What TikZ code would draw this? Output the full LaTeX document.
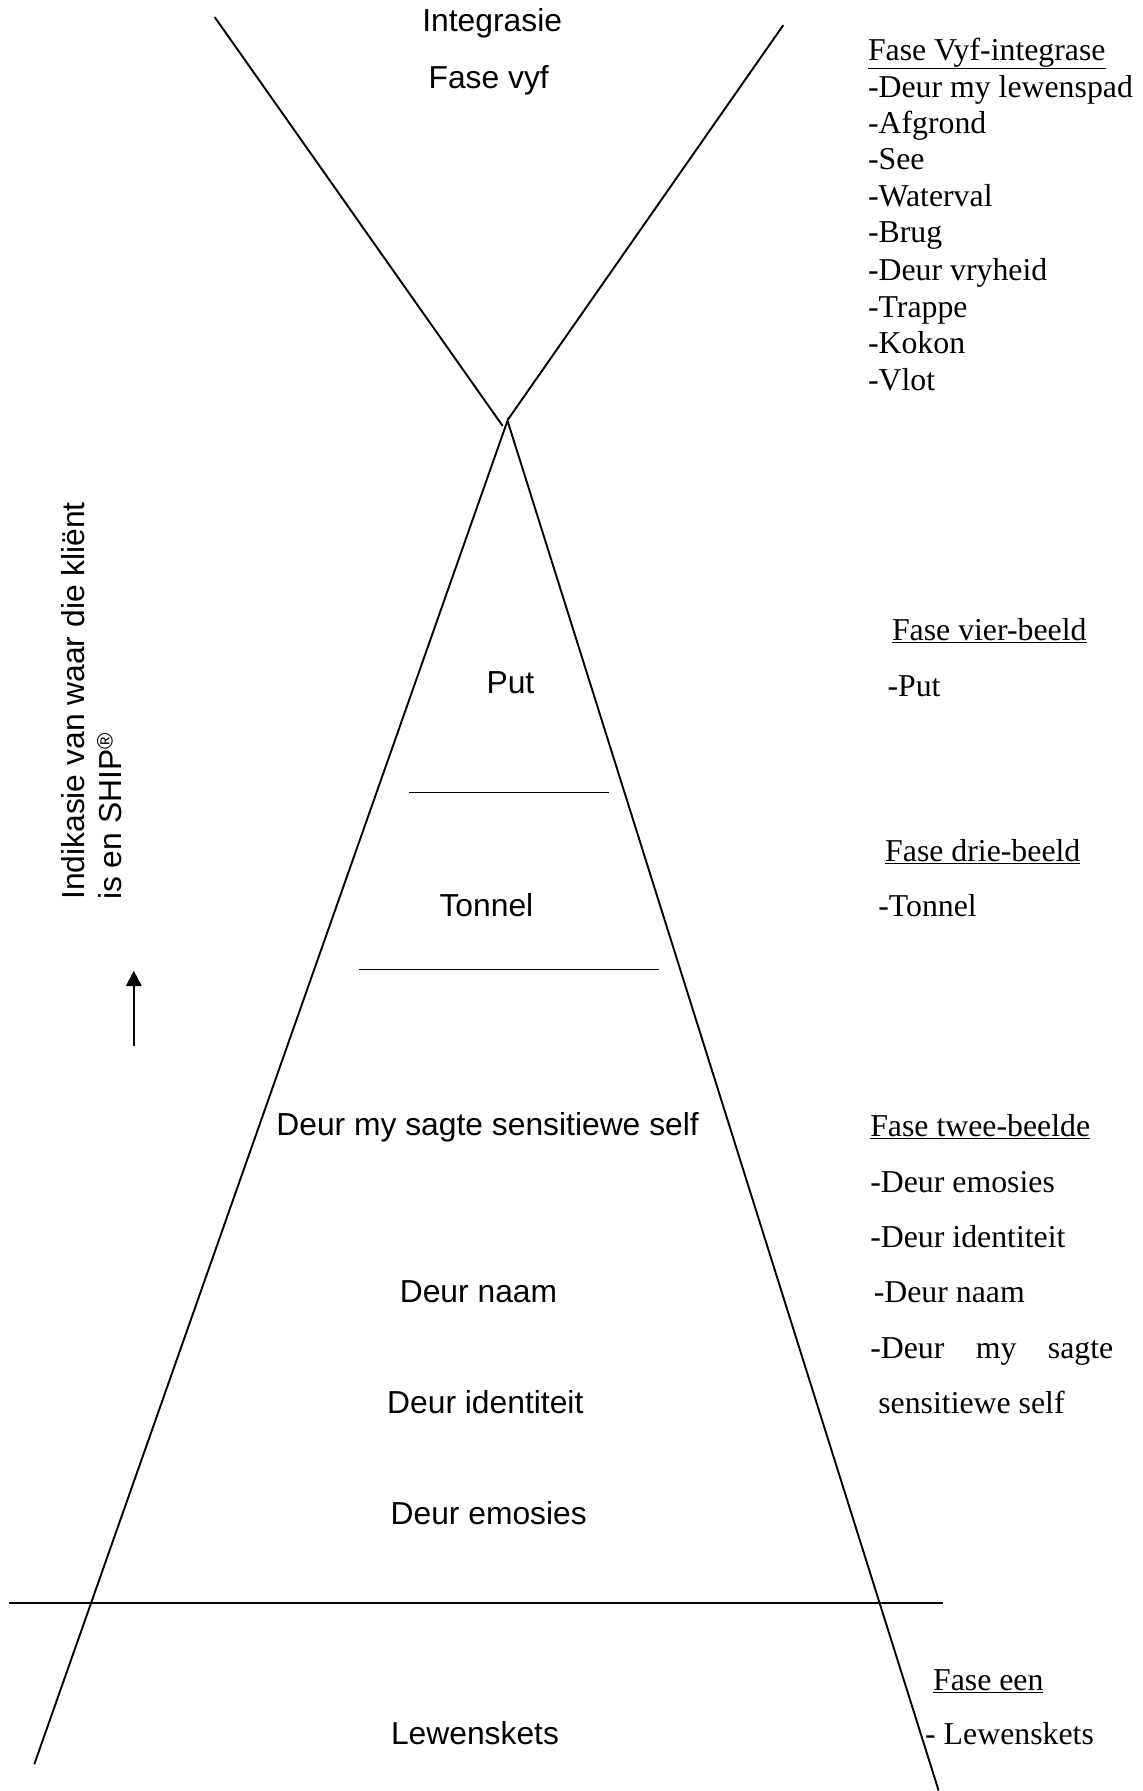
\documentclass[tikz,border=0pt]{standalone}
\usepackage{fontspec}
\setmainfont{Liberation Serif}
\setsansfont{Liberation Sans}
\usetikzlibrary{arrows.meta}
\begin{document}
\begin{tikzpicture}[x=1pt,y=-1pt,
  ln/.style={line width=1.9pt},
  sl/.style={font=\sffamily\fontsize{31.8}{36}\selectfont, inner sep=0pt, anchor=base},
  rotl/.style={font=\sffamily\fontsize{31.8}{36}\selectfont, inner sep=0pt, rotate=90, anchor=base west},
  rl/.style={font=\fontsize{31.8}{36}\selectfont, inner sep=0pt, anchor=base west}]
\useasboundingbox (0,0) rectangle (1143,1791);
% coordinates
\coordinate (vlt) at (214.7,17.1);
\coordinate (vle) at (502.7,426.0);
\coordinate (vrt) at (783.3,25.1);
\coordinate (vre) at (508.0,419.5);
\coordinate (apex) at (507.5,420.7);
\coordinate (bl) at (34.3,1764.2);
\coordinate (br) at (938.6,1790.5);
\coordinate (h1a) at (408.8,792.5);
\coordinate (h1b) at (608.6,792.5);
\coordinate (h2a) at (358.6,969.5);
\coordinate (h2b) at (658.9,969.5);
\coordinate (h3a) at (9.1,1603.3);
\coordinate (h3b) at (943.2,1603.3);
\coordinate (arrS) at (133.8,1045.7);
\coordinate (arrE) at (133.8,970.7);
% lines
\draw[ln] (vlt) -- (vle);
\draw[ln] (vrt) -- (vre);
\draw[ln] (bl) -- (apex) -- (br);
\draw[ln] (h1a) -- (h1b);
\draw[ln] (h2a) -- (h2b);
\draw[ln] (h3a) -- (h3b);
\draw[line width=2.2pt,-{Triangle[length=15.5pt,width=15.5pt]}] (arrS) -- (arrE);
% center labels
\node[sl] (integ) at (492.2,31.6) {Integrasie};
\node[sl] (fvyf) at (488.7,88.6) {Fase vyf};
\node[sl] (put) at (510.4,693.9) {Put};
\node[sl] (tonnel) at (486.4,916.5) {Tonnel};
\node[sl] (dmss) at (487.6,1135.8) {Deur my sagte sensitiewe self};
\node[sl] (dnaam) at (478.5,1302.5) {Deur naam};
\node[sl] (dident) at (485.3,1413.3) {Deur identiteit};
\node[sl] (demo) at (488.7,1524.0) {Deur emosies};
\node[sl] (lew) at (475.0,1744.4) {Lewenskets};
% rotated label
\node[rotl] (indik1) at (84.0,900.0) {Indikasie van waar die kli\"ent};
\node[rotl] (indik2) at (121.7,900.0) {is en SHIP\textsuperscript{\textregistered}};
% right column
\node[rl] (f5) at (867.8,60.1) {\underline{Fase Vyf-integrase}};
\node[rl] (f5a) at (867.8,97.8) {-Deur my lewenspad};
\node[rl] (f5b) at (867.8,133.2) {-Afgrond};
\node[rl] (f5c) at (867.8,169.7) {-See};
\node[rl] (f5d) at (867.8,206.3) {-Waterval};
\node[rl] (f5e) at (867.8,242.8) {-Brug};
\node[rl] (f5f) at (867.8,280.5) {-Deur vryheid};
\node[rl] (f5g) at (867.8,317.0) {-Trappe};
\node[rl] (f5h) at (867.8,353.6) {-Kokon};
\node[rl] (f5i) at (867.8,390.1) {-Vlot};
\node[rl] (f4) at (891.8,640.2) {\underline{Fase vier-beeld}};
\node[rl] (f4a) at (887.3,696.1) {-Put};
\node[rl] (f3) at (885.0,861.7) {\underline{Fase drie-beeld}};
\node[rl] (f3a) at (878.1,916.5) {-Tonnel};
\node[rl] (f2) at (870.1,1136.9) {\underline{Fase twee-beelde}};
\node[rl] (f2a) at (870.1,1192.9) {-Deur emosies};
\node[rl] (f2b) at (870.1,1247.7) {-Deur identiteit};
\node[rl] (f2c) at (873.6,1302.5) {-Deur naam};
\node[rl] (f2d) at (870.1,1358.4) {\makebox[243pt][s]{-Deur my sagte}};
\node[rl] (f2e) at (878.1,1413.3) {sensitiewe self};
\node[rl] (f1) at (932.9,1690.7) {\underline{Fase een}};
\node[rl] (f1a) at (925.0,1744.4) {- Lewenskets};
\end{tikzpicture}
\end{document}
